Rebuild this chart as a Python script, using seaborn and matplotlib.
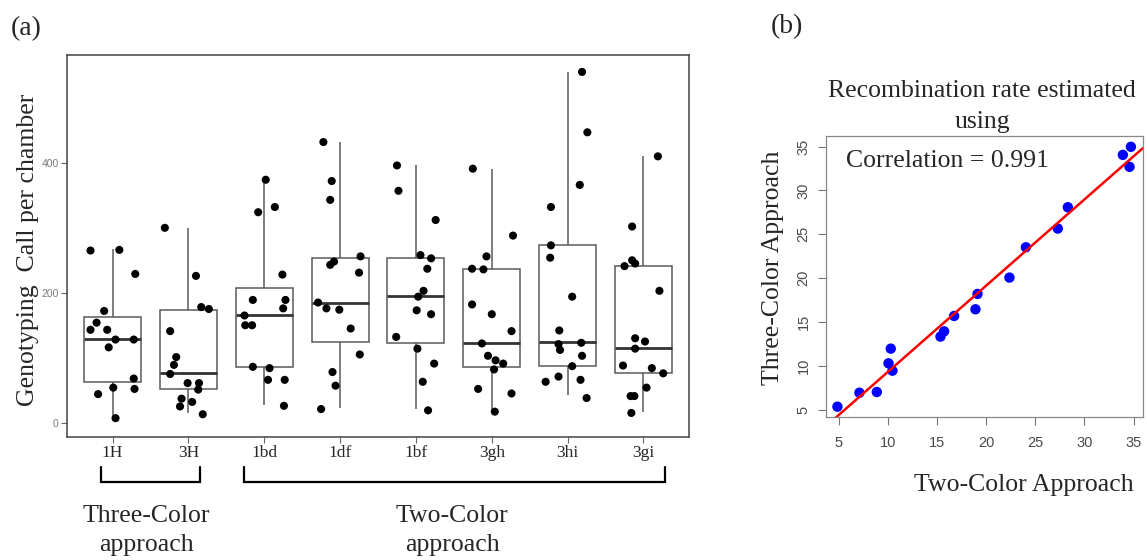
import numpy as np
import pandas as pd
import matplotlib
matplotlib.use("Agg")
import matplotlib.pyplot as plt
from matplotlib.lines import Line2D
import seaborn as sns

# ---------------- data: panel (a) ----------------
groups = ["1H", "3H", "1bd", "1df", "1bf", "3gh", "3hi", "3gi"]

# box summaries (whisker low, Q1, median, Q3, whisker high)
box_low = [7, 15, 27, 22, 21, 18, 42, 16]
box_q1 = [62, 52, 85, 125, 123, 85, 88, 77]
box_med = [129, 77, 166, 185, 195, 122, 124, 115]
box_q3 = [163, 173, 207, 253, 254, 236, 273, 241]
box_high = [268, 300, 374, 432, 396, 391, 540, 410]

vals_1H = [265, 266, 229, 172, 154, 143, 143, 128, 128, 116, 68, 54, 52, 44, 7]
jit_1H = [-0.29, 0.09, 0.30, -0.11, -0.21, -0.29, -0.07, 0.04, 0.28, -0.05, 0.28, 0.01, 0.29, -0.19, 0.04]
vals_3H = [300, 226, 178, 175, 141, 101, 89, 75, 61, 61, 51, 37, 25, 32, 13]
jit_3H = [-0.31, 0.10, 0.17, 0.27, -0.24, -0.16, -0.19, -0.24, -0.01, 0.14, 0.13, -0.09, -0.11, 0.05, 0.19]
vals_1bd = [374, 324, 332, 228, 189, 189, 176, 165, 150, 150, 86, 84, 66, 66, 26]
jit_1bd = [0.02, -0.08, 0.14, 0.24, -0.15, 0.28, 0.25, -0.26, -0.25, -0.16, -0.15, 0.07, 0.05, 0.27, 0.26]
vals_1df = [432, 372, 343, 243, 248, 256, 231, 185, 176, 174, 145, 105, 78, 57, 21]
jit_1df = [-0.22, -0.11, -0.13, -0.13, -0.08, 0.27, 0.25, -0.29, -0.18, -0.01, 0.14, 0.26, -0.10, -0.06, -0.25]
vals_1bf = [396, 357, 312, 258, 253, 237, 203, 194, 173, 167, 132, 114, 91, 63, 19]
jit_1bf = [-0.25, -0.23, 0.26, 0.06, 0.20, 0.15, 0.10, 0.03, 0.01, 0.20, -0.26, 0.02, 0.24, 0.09, 0.16]
vals_3gh = [391, 288, 256, 237, 236, 182, 167, 141, 122, 103, 96, 91, 82, 52, 45, 17]
jit_3gh = [-0.25, 0.28, -0.07, -0.26, -0.11, -0.26, 0.00, 0.26, -0.13, -0.05, 0.05, 0.15, 0.03, -0.18, 0.26, 0.04]
vals_3hi = [540, 447, 366, 332, 273, 254, 194, 142, 121, 112, 123, 103, 87, 63, 71, 66, 38]
jit_3hi = [0.19, 0.26, 0.16, -0.22, -0.22, -0.23, 0.06, -0.11, -0.12, -0.10, 0.18, 0.19, 0.06, -0.29, -0.12, 0.17, 0.25]
vals_3gi = [410, 302, 250, 245, 241, 203, 130, 125, 114, 88, 84, 76, 54, 41, 41, 15]
jit_3gi = [0.19, -0.15, -0.15, -0.11, -0.25, 0.21, -0.11, 0.02, -0.11, -0.27, 0.11, 0.26, 0.04, -0.17, -0.12, -0.16]

y_ticks_a = [0, 200, 400]

# ---------------- data: panel (b) ----------------
two_color = [4.86, 7.10, 8.87, 10.06, 10.29, 10.46, 15.35, 15.72, 16.74, 18.91,
             19.12, 22.37, 24.04, 27.29, 28.31, 33.91, 34.73, 34.59]
three_color = [5.38, 6.97, 7.05, 10.32, 11.99, 9.48, 13.36, 13.96, 15.71, 16.47,
               18.22, 20.08, 23.53, 25.66, 28.09, 34.05, 34.97, 32.69]
ticks_b = [5, 10, 15, 20, 25, 30, 35]
correlation_text = "Correlation = 0.991"

# ---------------- build tables ----------------
point_vals = [vals_1H, vals_3H, vals_1bd, vals_1df, vals_1bf, vals_3gh, vals_3hi, vals_3gi]
point_jit = [jit_1H, jit_3H, jit_1bd, jit_1df, jit_1bf, jit_3gh, jit_3hi, jit_3gi]

box_rows = []
for g, lo, q1, md, q3, hi in zip(groups, box_low, box_q1, box_med, box_q3, box_high):
    for v in (lo, q1, md, q3, hi):
        box_rows.append({"group": g, "value": v})
box_df = pd.DataFrame(box_rows)

pt_rows = []
for i, (vs, js) in enumerate(zip(point_vals, point_jit)):
    for v, j in zip(vs, js):
        pt_rows.append({"pos": i + j, "value": v})
pt_df = pd.DataFrame(pt_rows)

# ---------------- figure ----------------
sns.set_style("white")
plt.rcParams["font.family"] = ["Liberation Serif", "DejaVu Serif"]
SANS = ["Liberation Sans", "DejaVu Sans"]

W, H = 1147, 560
fig = plt.figure(figsize=(W / 100, H / 100), dpi=100)


def fx(x):
    return x / W


def fy(y):
    return 1 - y / H


# ---- panel (a) ----
axA = fig.add_axes([fx(67), fy(437), fx(689 - 67), (437 - 55) / H])
sns.boxplot(data=box_df, x="group", y="value", order=groups, whis=(0, 100),
            width=0.75, showfliers=False, showcaps=False, color="white",
            linecolor="#5a5a5a", linewidth=1.1,
            medianprops={"color": "#333333", "linewidth": 2.0}, ax=axA)
sns.scatterplot(data=pt_df, x="pos", y="value", color="black", s=34,
                edgecolor="none", legend=False, ax=axA, zorder=5)
axA.set_xlim(-0.6, 7.6)
axA.set_ylim(-22, 566)
axA.set_yticks(y_ticks_a)
axA.set_xticks(range(len(groups)))
axA.set_xticklabels(groups, fontsize=12.5)
for lab in axA.get_yticklabels():
    lab.set_fontfamily(SANS)
axA.tick_params(axis="y", labelsize=7.5, labelcolor="#7a7a7a", color="#666666",
                length=4, width=0.8, direction="out", left=True, pad=2)
axA.tick_params(axis="x", color="#666666", length=4, width=0.8,
                direction="out", bottom=True, pad=2)
axA.set_xlabel("")
axA.set_ylabel("")
for sp in axA.spines.values():
    sp.set_color("#444444")
    sp.set_linewidth(1.1)

# ---- panel (b) ----
axB = fig.add_axes([fx(826), fy(416.7), fx(1143 - 826), (416.7 - 136) / H])
axB.set_xlim(3.7, 35.96)
axB.set_ylim(4.24, 36.2)
sns.regplot(x=two_color, y=three_color, ci=None, truncate=False, ax=axB,
            scatter_kws={"color": "#0000ff", "s": 56, "edgecolor": "none", "alpha": 1},
            line_kws={"color": "#ff0000", "linewidth": 1.8})
axB.set_xlim(3.7, 35.96)
axB.set_ylim(4.24, 36.2)
axB.set_xticks(ticks_b)
axB.set_yticks(ticks_b)
axB.tick_params(axis="both", labelsize=10.5, labelcolor="#4a4a4a", color="#777777",
                length=6, width=0.8, direction="out", bottom=True, left=True)
axB.tick_params(axis="x", pad=8)
axB.tick_params(axis="y", pad=5, labelrotation=90)
for lab in axB.get_xticklabels() + axB.get_yticklabels():
    lab.set_fontfamily(SANS)
for lab in axB.get_yticklabels():
    lab.set_va("center")
axB.set_xlabel("")
axB.set_ylabel("")
for sp in axB.spines.values():
    sp.set_color("#888888")
    sp.set_linewidth(0.9)

# ---------------- texts ----------------
FS = 18.5
fig.text(fx(26.5), fy(29), "(a)", fontsize=20, ha="center", va="center")
fig.text(fx(786.5), fy(27), "(b)", fontsize=20, ha="center", va="center")

fig.text(fx(28), fy(250), "Genotyping  Call per chamber", fontsize=FS,
         rotation=90, ha="center", va="center")

fig.text(fx(146), fy(522), "Three-Color", fontsize=FS, ha="center", va="baseline")
fig.text(fx(146), fy(551), "approach", fontsize=FS, ha="center", va="baseline")
fig.text(fx(452), fy(522), "Two-Color", fontsize=FS, ha="center", va="baseline")
fig.text(fx(452), fy(551), "approach", fontsize=FS, ha="center", va="baseline")

fig.text(fx(982), fy(97), "Recombination rate estimated", fontsize=FS,
         ha="center", va="baseline")
fig.text(fx(982), fy(128), "using", fontsize=FS, ha="center", va="baseline")
fig.text(fx(846), fy(167), correlation_text, fontsize=FS, ha="left", va="baseline")
fig.text(fx(1023.5), fy(491), "Two-Color Approach", fontsize=FS,
         ha="center", va="baseline")
fig.text(fx(773), fy(267.5), "Three-Color Approach", fontsize=FS,
         rotation=90, ha="center", va="center")

# ---------------- brackets ----------------
for xs in ([100.7, 100.7, 200, 200], [244, 244, 665, 665]):
    fig.add_artist(Line2D([fx(x) for x in xs],
                          [fy(467), fy(482), fy(482), fy(467)],
                          color="black", linewidth=1.6,
                          solid_joinstyle="miter", transform=fig.transFigure))

fig.savefig("out.png", dpi=100)
